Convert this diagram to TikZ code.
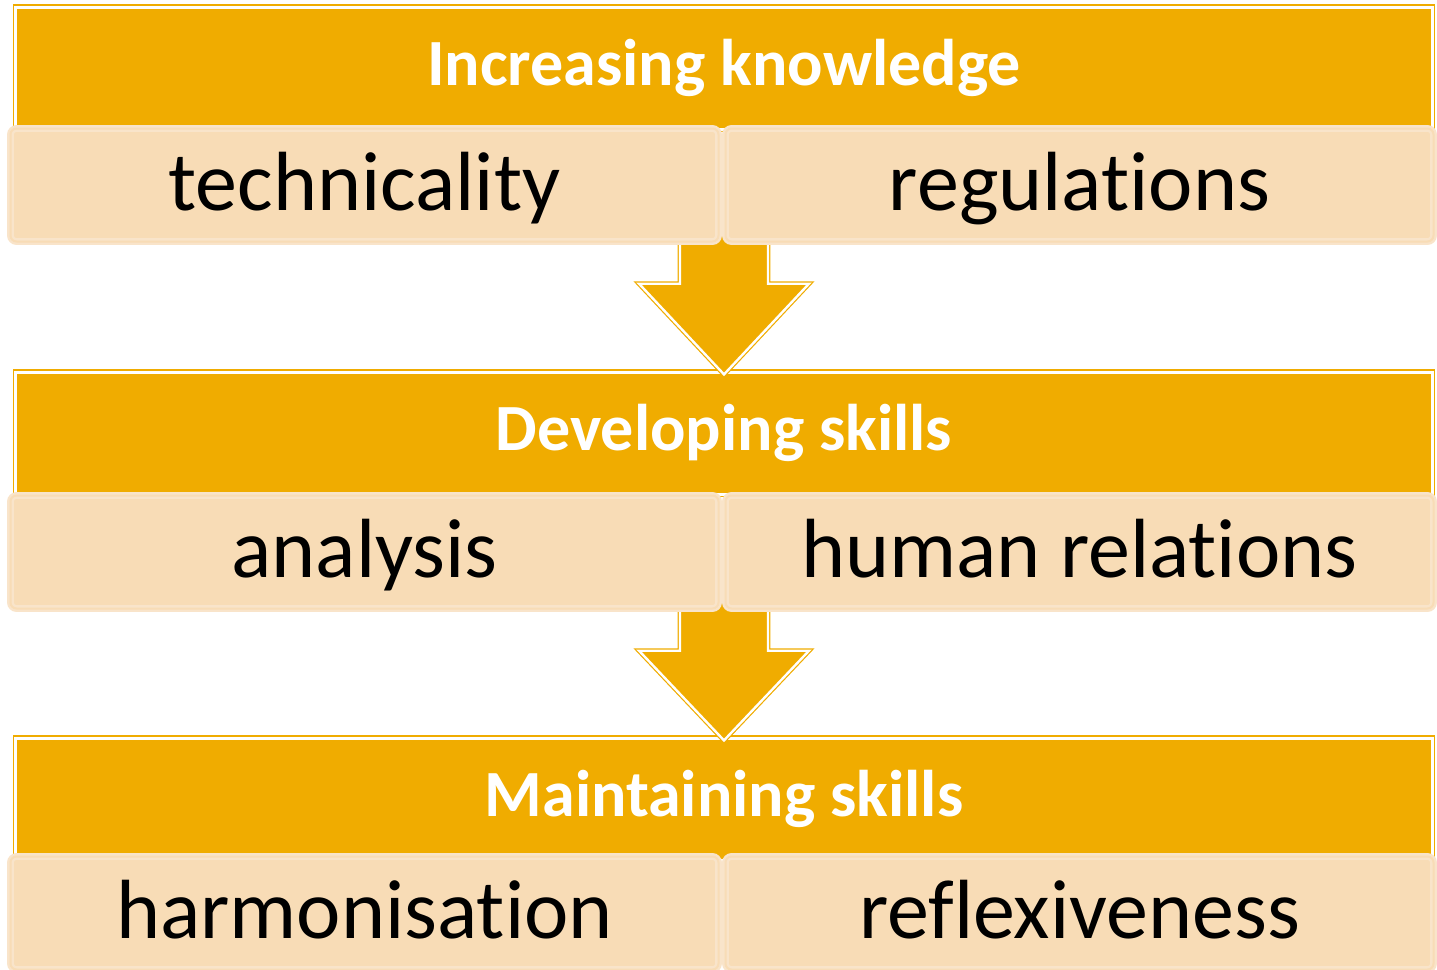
\documentclass[tikz,border=0pt]{standalone}
\usepackage{fontspec}
\setmainfont[Ligatures=NoCommon]{Carlito}
\usetikzlibrary{positioning, calc}
\definecolor{amber}{HTML}{F0AC00}
\definecolor{sand}{HTML}{F8DCB6}
\definecolor{sandedge}{HTML}{F9E4CA}
\pgfdeclarelayer{back}
\pgfsetlayers{back,main}
\tikzset{
	stage/.style={
		fill=amber, draw=amber, double=white, double distance=1.5pt, line width=.6pt,
		minimum width=708.3pt, minimum height=61pt,
		text=white, font={\bfseries\fontsize{33}{36}\selectfont}
	},
	item/.style={
		fill=sand, draw=sandedge, double=sand, double distance=1pt, line width=1.2pt,
		rounded corners=3pt,
		minimum width=354pt, minimum height=56.5pt,
		text height=36pt, text depth=11pt,
		font={\fontsize{42}{46}\selectfont}
	},
	flow/.style={
		fill=amber, draw=amber, double=white, double distance=1.2pt, line width=.6pt
	}
}
% block arrow from a point (shaft top) to a tip
\newcommand{\stagearrow}[2]{%
	\draw[flow] let \p1=(#1), \p2=(#2) in
		(\x1-22pt,\y1+6pt) -- (\x1-22pt,\y1-20.5pt) -- (\x1-42.5pt,\y1-20.5pt)
		-- (\x1,\y2-1.5pt) -- (\x1+42.5pt,\y1-20.5pt) -- (\x1+22pt,\y1-20.5pt)
		-- (\x1+22pt,\y1+6pt) -- cycle;
}
\begin{document}
\begin{tikzpicture}[x=0.5pt, y=-0.5pt]
	\useasboundingbox (0,0) rectangle (1437,970);

	\begin{pgfonlayer}{back}
		\node[stage] (know) at (724,68) {Increasing knowledge};
		\node[stage] (devel) at (724,433) {Developing skills};
		\node[stage] (maint) at (724,799) {Maintaining skills};
	\end{pgfonlayer}

	\node[item] (tech) at (364.5,185) {technicality};
	\node[item] (regul) at (1079.5,185) {regulations};

	\node[item] (anal) at (364.5,552) {analysis};
	\node[item] (human) at (1079.5,552) {human relations};

	\node[item] (harm) at (364.5,913) {harmonisation};
	\node[item] (refl) at (1079.5,913) {reflexiveness};

	\begin{pgfonlayer}{back}
		\stagearrow{know.center |- tech.south}{devel.north}
		\stagearrow{devel.center |- anal.south}{maint.north}
	\end{pgfonlayer}
\end{tikzpicture}
\end{document}
